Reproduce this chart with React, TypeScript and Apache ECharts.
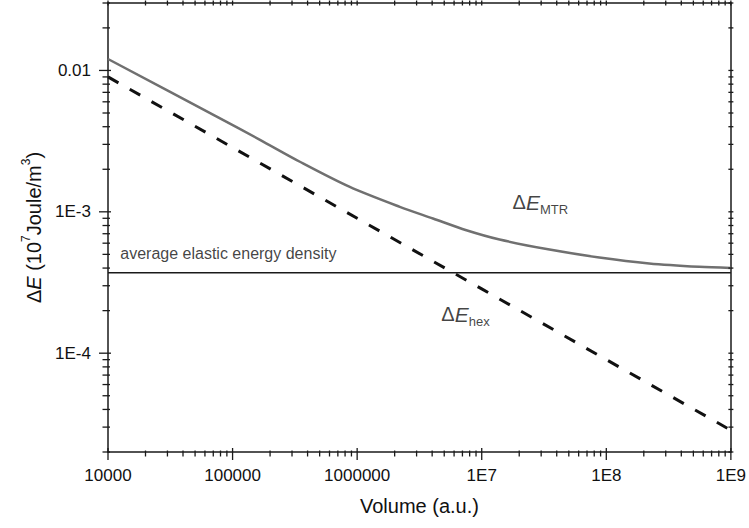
import React, { useEffect, useRef } from 'react';
import * as echarts from 'echarts';

// ---- data ----
const volumeMTR = [1e4, 7.46e4, 1.66e5, 3.47e5, 8.73e5, 2.2e6, 4.06e6, 7.53e6, 1.39e7, 3.5e7, 8.79e7, 2.21e8, 5.57e8, 1e9];
const energyMTR = [0.01205, 0.00472, 0.00323, 0.00226, 0.0015, 0.001084, 0.000897, 0.000741, 0.000637, 0.000541, 0.000475, 0.000431, 0.000408, 0.000401];
const volumeHex = [1e4, 1e5, 1e6, 1e7, 1e8, 1e9];
const energyHex = [0.009, 0.00285, 0.0009, 0.000285, 0.00009, 0.0000285];
const averageVolume = [1e4, 1e9];
const averageEnergy = [3.7e-4, 3.7e-4];
const volumeRange = [1e4, 1e9];
const energyRange = [2e-5, 0.03];
const xMajorTicks = [1e4, 1e5, 1e6, 1e7, 1e8, 1e9];
const yMajorTicks = [1e-4, 1e-3, 1e-2];
const annotationX = [1.255e4, 1.77e7, 4.74e6];
const annotationY = [5.05e-4, 1.143e-3, 1.837e-4];
const annotationText = ['average elastic energy density', '{d|Δ}{e|E}{s|MTR}', '{d|Δ}{e|E}{s|hex}'];

const FONT = '"Liberation Sans", Arial, Helvetica, sans-serif';

function minorBetween(lo: number, hi: number): number[] {
  const out: number[] = [];
  let dec = Math.pow(10, Math.floor(Math.log10(lo)));
  while (dec < hi) {
    for (let m = 2; m <= 9; m++) {
      const v = m * dec;
      if (v >= lo * 0.999 && v <= hi * 1.001) out.push(v);
    }
    dec *= 10;
  }
  return out;
}

const xMinorTicks = minorBetween(volumeRange[0], volumeRange[1]);
const yMinorTicks = minorBetween(energyRange[0], energyRange[1]);

function logLabelX(v: number): string {
  const e = Math.log10(v);
  if (Math.abs(e - Math.round(e)) > 1e-6) return '';
  const k = Math.round(e);
  return k < 7 ? String(Math.round(v)) : '1E' + k;
}
function logLabelY(v: number): string {
  const e = Math.log10(v);
  if (Math.abs(e - Math.round(e)) > 1e-6) return '';
  const k = Math.round(e);
  return k === -2 ? '0.01' : '1E' + k;
}

export default function App() {
  const ref = useRef<HTMLDivElement>(null);
  useEffect(() => {
    if (!ref.current) return;
    const chart = echarts.init(ref.current, null, { renderer: 'svg' });

    const tickData: number[][] = [];
    xMajorTicks.forEach((v) => tickData.push([v, 1e-3, 0, 1]));
    xMinorTicks.forEach((v) => tickData.push([v, 1e-3, 0, 0]));
    yMajorTicks.forEach((v) => tickData.push([1e5, v, 1, 1]));
    yMinorTicks.forEach((v) => tickData.push([1e5, v, 1, 0]));

    const tickStyle = { stroke: '#1a1a1a', lineWidth: 1.3 };

    chart.setOption({
      animation: false,
      backgroundColor: '#ffffff',
      grid: { left: 108, right: 17, top: 3, bottom: 76, containLabel: false },
      xAxis: [
        {
          type: 'log',
          min: volumeRange[0],
          max: volumeRange[1],
          logBase: 10,
          name: 'Volume (a.u.)',
          nameLocation: 'middle',
          nameGap: 44,
          nameTextStyle: { fontFamily: FONT, fontSize: 20, color: '#111' },
          axisLine: { show: true, lineStyle: { color: '#1a1a1a', width: 1.5 } },
          axisTick: { show: false },
          splitLine: { show: false },
          axisLabel: { formatter: logLabelX, fontFamily: FONT, fontSize: 17, color: '#111', margin: 15 },
        },
        {
          type: 'log',
          position: 'top',
          min: volumeRange[0],
          max: volumeRange[1],
          axisLine: { show: true, onZero: false, lineStyle: { color: '#1a1a1a', width: 1.5 } },
          axisTick: { show: false },
          axisLabel: { show: false },
          splitLine: { show: false },
        },
      ],
      yAxis: [
        {
          type: 'log',
          min: energyRange[0],
          max: energyRange[1],
          logBase: 10,
          name: '{t|Δ}{i|E}{t| (10}{p|7}{t|Joule/m}{p|3}{t|)}',
          nameLocation: 'middle',
          nameRotate: 90,
          nameGap: 64,
          nameTextStyle: {
            fontFamily: FONT,
            color: '#111',
            rich: {
              t: { fontFamily: FONT, fontSize: 20, color: '#111', lineHeight: 24, verticalAlign: 'bottom' },
              i: { fontFamily: FONT, fontSize: 20, color: '#111', fontStyle: 'italic', lineHeight: 24, verticalAlign: 'bottom' },
              p: { fontFamily: FONT, fontSize: 12, color: '#111', lineHeight: 12, verticalAlign: 'top' },
            },
          },
          axisLine: { show: true, lineStyle: { color: '#1a1a1a', width: 1.5 } },
          axisTick: { show: false },
          splitLine: { show: false },
          axisLabel: { formatter: logLabelY, fontFamily: FONT, fontSize: 17, color: '#111', margin: 17 },
        },
        {
          type: 'log',
          position: 'right',
          min: energyRange[0],
          max: energyRange[1],
          axisLine: { show: true, onZero: false, lineStyle: { color: '#1a1a1a', width: 1.5 } },
          axisTick: { show: false },
          axisLabel: { show: false },
          splitLine: { show: false },
        },
      ],
      series: [
        {
          name: 'MTR',
          type: 'line',
          data: volumeMTR.map((v, i) => [v, energyMTR[i]]),
          showSymbol: false,
          smooth: 0.3,
          lineStyle: { color: '#707070', width: 2.5 },
          z: 3,
        },
        {
          name: 'hex',
          type: 'line',
          data: volumeHex.map((v, i) => [v, energyHex[i]]),
          showSymbol: false,
          lineStyle: { color: '#111', width: 3, type: [12, 13] },
          z: 3,
        },
        {
          name: 'average',
          type: 'line',
          data: averageVolume.map((v, i) => [v, averageEnergy[i]]),
          showSymbol: false,
          lineStyle: { color: '#1a1a1a', width: 1.5 },
          z: 2,
        },
        {
          name: 'annotations',
          type: 'scatter',
          symbolSize: 0,
          silent: true,
          data: annotationX.map((v, i) => ({ value: [v, annotationY[i]], text: annotationText[i] })),
          label: {
            show: true,
            position: 'right',
            distance: 0,
            formatter: (p: any) => annotationText[p.dataIndex],
            fontFamily: FONT,
            fontSize: 16,
            color: '#111',
            rich: {
              d: { fontFamily: FONT, fontSize: 20, color: '#111', lineHeight: 24, verticalAlign: 'top' },
              e: { fontFamily: FONT, fontSize: 21, color: '#111', fontStyle: 'italic', lineHeight: 24, verticalAlign: 'top' },
              s: { fontFamily: FONT, fontSize: 13, color: '#111', lineHeight: 13, padding: [16, 0, 0, 0], verticalAlign: 'bottom' },
            },
          },
          z: 4,
        },
        {
          name: 'ticks',
          type: 'custom',
          silent: true,
          clip: false,
          data: tickData,
          renderItem: (params: any, api: any) => {
            const cs = params.coordSys;
            const kind = api.value(2);
            const major = api.value(3) === 1;
            const p = api.coord([api.value(0), api.value(1)]);
            if (kind === 0) {
              const x = p[0];
              const b = cs.y + cs.height;
              const t = cs.y;
              return {
                type: 'group',
                children: [
                  { type: 'line', shape: { x1: x, y1: b - (major ? 4 : 1.5), x2: x, y2: b + (major ? 8 : 4.5) }, style: tickStyle },
                  { type: 'line', shape: { x1: x, y1: t - 2.5, x2: x, y2: t + 2.5 }, style: tickStyle },
                ],
              };
            }
            const y = p[1];
            const l = cs.x;
            const r = cs.x + cs.width;
            return {
              type: 'group',
              children: [
                { type: 'line', shape: { x1: l - (major ? 9 : 5.5), y1: y, x2: l + (major ? 3 : 2), y2: y }, style: tickStyle },
                { type: 'line', shape: { x1: r - 2.5, y1: y, x2: r + 2.5, y2: y }, style: tickStyle },
              ],
            };
          },
          z: 5,
        },
      ],
    });
    return () => chart.dispose();
  }, []);

  return (
    <div
      ref={ref}
      style={{ position: 'absolute', left: 0, top: 0, width: 749, height: 528, background: '#fff' }}
    />
  );
}
